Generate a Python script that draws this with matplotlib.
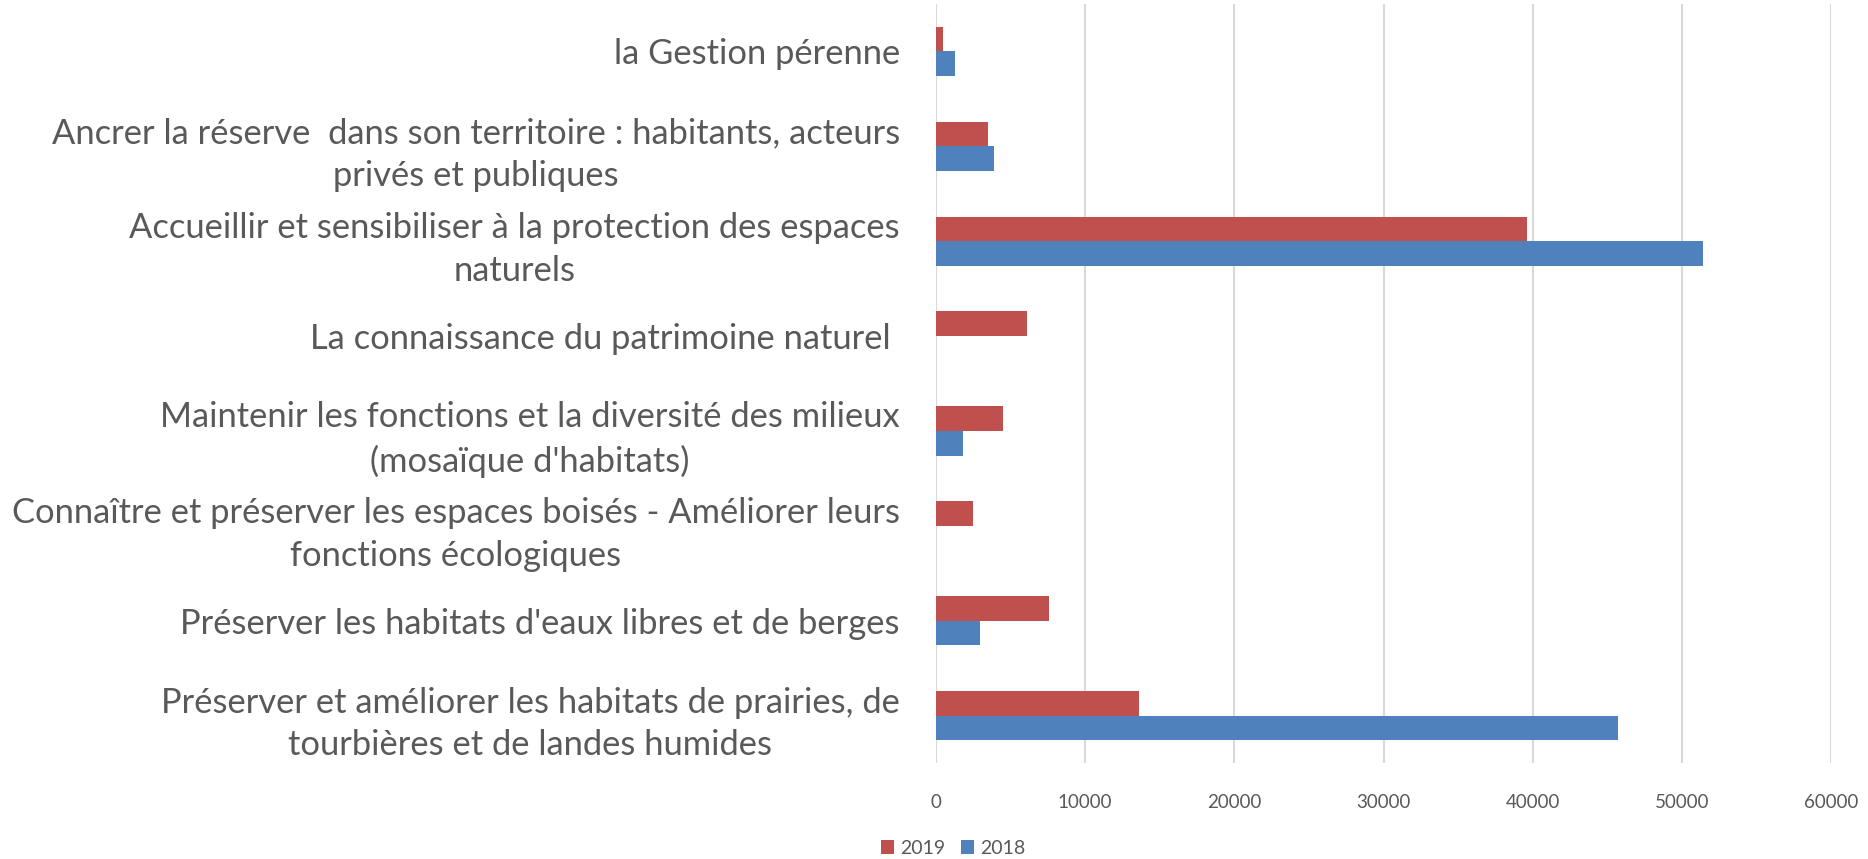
"""Horizontal grouped bars: amounts per management objective, 2019 vs 2018."""

import matplotlib

matplotlib.use("Agg")

import matplotlib.pyplot as plt
import numpy as np

categories = [
    "la Gestion pérenne",
    "Ancrer la réserve  dans son territoire : habitants, acteurs\nprivés et publiques",
    "Accueillir et sensibiliser à la protection des espaces\nnaturels",
    "La connaissance du patrimoine naturel ",
    "Maintenir les fonctions et la diversité des milieux\n(mosaïque d'habitats)",
    "Connaître et préserver les espaces boisés - Améliorer leurs\nfonctions écologiques",
    "Préserver les habitats d'eaux libres et de berges",
    "Préserver et améliorer les habitats de prairies, de\ntourbières et de landes humides",
]
values_2019 = [500, 3500, 39600, 6100, 4500, 2480, 7600, 13600]
values_2018 = [1250, 3900, 51400, 0, 1820, 0, 2970, 45700]

x_ticks = [0, 10000, 20000, 30000, 40000, 50000, 60000]

RED = "#C0504D"
BLUE = "#4F81BD"
TEXT = "#595959"

plt.rcParams["font.family"] = ["Lato", "DejaVu Sans"]

fig = plt.figure(figsize=(18.68, 8.59), dpi=100)
ax = fig.add_axes([936 / 1868, 1 - 763 / 859, (1831 - 936) / 1868, (763 - 4) / 859])

y = np.arange(len(categories))
h = 0.26
ax.barh(y - h / 2, values_2019, height=h, color=RED, label="2019", zorder=3)
ax.barh(y + h / 2, values_2018, height=h, color=BLUE, label="2018", zorder=3)

ax.set_ylim(len(categories) - 0.5, -0.5)
ax.set_xlim(0, 60000)
ax.set_xticks(x_ticks)
ax.set_xticklabels([str(v) for v in x_ticks], fontsize=13.5, color=TEXT)
ax.set_yticks(y)
ax.set_yticklabels(categories, fontsize=24.8, color=TEXT, linespacing=1.42)

# right-aligned block, each line centered within it
for lbl in ax.get_yticklabels():
    lbl.set_horizontalalignment("right")
    lbl.set_multialignment("center")
ax.tick_params(axis="y", length=0, pad=26)
ax.tick_params(axis="x", length=0, pad=22)

ax.grid(axis="x", color="#D9D9D9", lw=1.5, zorder=0)
for s in ax.spines.values():
    s.set_visible(False)

handles, labels = ax.get_legend_handles_labels()
fig.legend(handles, labels, loc="center", bbox_to_anchor=(953 / 1868, 1 - 848 / 859),
           ncol=2, frameon=False, fontsize=14, handlelength=0.7, handleheight=0.7,
           handletextpad=0.3, columnspacing=0.8, labelcolor=TEXT)

fig.savefig("out.png", dpi=100)
